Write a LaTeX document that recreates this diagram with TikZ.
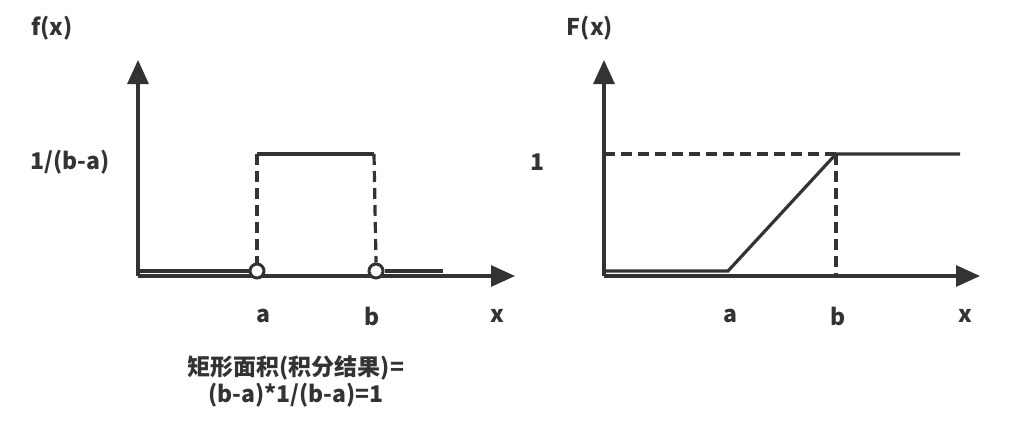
\documentclass[tikz,border=0pt]{standalone}
\usepackage{fontspec}
\setmainfont{Noto Sans CJK SC}[BoldFont={* Black}]
\usetikzlibrary{arrows.meta}
\definecolor{ink}{HTML}{333333}
\begin{document}
\begin{tikzpicture}[x=1pt,y=-1pt,line width=3.2pt,
  ax/.style={draw=ink,-{Triangle[length=24pt,width=21pt]}},
  fn/.style={draw=ink},
  dsh/.style={draw=ink,dash pattern=on 11pt off 6pt},
  lbl/.style={text=ink,font=\bfseries\fontsize{23}{26}\selectfont},
  hole/.style={circle,draw=ink,fill=white,line width=3pt,minimum size=14pt,inner sep=0pt}]
\useasboundingbox (0,0) rectangle (1014,447);
% left
\coordinate (o1) at (138,276);
\coordinate (yt1) at (138,60);
\coordinate (xt1) at (515,276);
\draw[ax] (o1) -- (yt1);
\draw[ax] (o1) -- (xt1);
\coordinate (l0) at (138,271);
\coordinate (ta) at (257,154);
\coordinate (tb) at (374,154);
\coordinate (le) at (443,271);
\node[hole] (ca) at (257,271) {};
\node[hole] (cb) at (376,271) {};
\draw[fn] (l0) -- (ca.west);
\draw[fn] (cb.east) -- (le);
\draw[fn] (ta) -- (tb);
\draw[dsh] (ta) -- (ca.north);
\draw[dsh] (tb) -- (cb.north);
\node[lbl] (f1) at (52,28) {f(x)};
\node[lbl] (v1) at (70,162) {1/(b-a)};
\node[lbl] (a1) at (263,316) {a};
\node[lbl] (b1) at (372,316) {b};
\node[lbl] (x1) at (497,316) {x};
\node[lbl,align=center,font=\bfseries\fontsize{23}{27}\selectfont] (note) at (296,381) {矩形面积(积分结果)=\\(b-a)*1/(b-a)=1};
% right
\coordinate (o2) at (604,276);
\coordinate (yt2) at (604,60);
\coordinate (xt2) at (980,276);
\draw[ax] (o2) -- (yt2);
\draw[ax] (o2) -- (xt2);
\coordinate (r0) at (604,271);
\coordinate (ra) at (728,271);
\coordinate (rb) at (836,154);
\coordinate (re) at (960,154);
\coordinate (yb) at (604,154);
\coordinate (xb) at (836,276);
\draw[fn] (r0) -- (ra) -- (rb) -- (re);
\draw[dsh] (yb) -- (rb);
\draw[dsh] (rb) -- (xb);
\node[lbl] (f2) at (590,28) {F(x)};
\node[lbl] (v2) at (537,162) {1};
\node[lbl] (a2) at (730,316) {a};
\node[lbl] (b2) at (838,316) {b};
\node[lbl] (x2) at (965,316) {x};
\end{tikzpicture}
\end{document}
